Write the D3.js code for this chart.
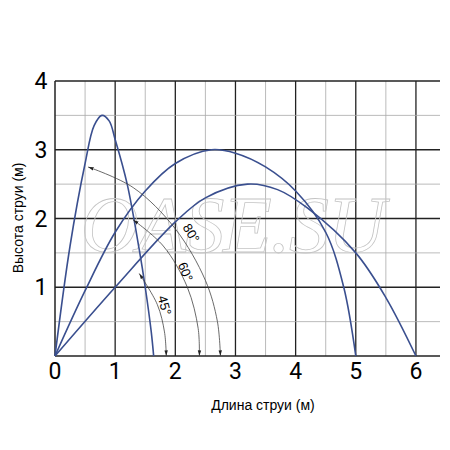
<!DOCTYPE html><html><head><meta charset="utf-8"><script src="https://cdn.jsdelivr.net/npm/d3@7"></script>
<style>body{margin:0;background:#fff}</style></head><body><svg id="c" width="450" height="450"></svg><script>
const curve80=[[0,0],[0.25,1.6],[0.5,2.8],[0.65,3.35],[0.78,3.5],[0.9,3.42],[1.0,3.15],[1.2,2.5],[1.4,1.55],[1.5,1.0],[1.6,0.35],[1.64,0]];
const curve60=[[0,0],[0.5,0.95],[1,1.8],[1.5,2.4],[2,2.8],[2.6,3.0],[3,2.95],[3.5,2.75],[4,2.4],[4.5,1.8],[4.8,1.0],[5,0]];
const curve45=[[0,0],[1,1],[2,1.95],[2.5,2.3],[3.2,2.5],[3.7,2.42],[4.2,2.15],[5,1.5],[5.5,0.85],[6,0]];
const arc80=[[0.55,2.75],[1.3,2.45],[2.0,1.85],[2.5,1.1],[2.7,0.5],[2.75,0]];
const arc60=[[1.3,1.98],[1.8,1.6],[2.2,1.0],[2.38,0.4],[2.4,0]];
const arc45=[[1.4,1.2],[1.7,0.75],[1.82,0.35],[1.85,0]];
const xTicks=[0,1,2,3,4,5,6], yTicks=[1,2,3,4];
const svg=d3.select("#c");
const x=d3.scaleLinear([0,6.4],[55,440]), y=d3.scaleLinear([0,4],[356,81]);
const g=svg.append("g");
for(let v=0.5;v<=6.4;v+=0.5){g.append("line").attr("x1",x(v)).attr("x2",x(v)).attr("y1",y(0)).attr("y2",y(4)).attr("stroke",Number.isInteger(v)?"#222":"#aaa").attr("stroke-width",Number.isInteger(v)?1.3:0.8);}
for(let v=0.5;v<=4;v+=0.5){g.append("line").attr("x1",x(0)).attr("x2",x(6.4)).attr("y1",y(v)).attr("y2",y(v)).attr("stroke",Number.isInteger(v)?"#222":"#aaa").attr("stroke-width",Number.isInteger(v)?1.3:0.8);}
g.append("line").attr("x1",x(0)).attr("x2",x(0)).attr("y1",y(0)).attr("y2",y(4)).attr("stroke","#222").attr("stroke-width",1.5);
g.append("line").attr("x1",x(0)).attr("x2",x(6.4)).attr("y1",y(0)).attr("y2",y(0)).attr("stroke","#222").attr("stroke-width",1.5);
svg.append("text").attr("x",233).attr("y",252).attr("text-anchor","middle").attr("font-family","Liberation Serif").attr("font-style","italic").attr("font-size",80).attr("textLength",305).attr("fill","none").attr("stroke","#c4c4c4").attr("stroke-width",0.8).text("OASE.SU");
const defs=svg.append("defs");
defs.append("marker").attr("id","ar").attr("viewBox","0 0 10 10").attr("refX",10).attr("refY",5).attr("markerWidth",7).attr("markerHeight",7).attr("orient","auto-start-reverse").append("path").attr("d","M0,2L10,5L0,8z").attr("fill","#222");
const ln=d3.line().x(d=>x(d[0])).y(d=>y(d[1])).curve(d3.curveCatmullRom);
[curve80,curve60,curve45].forEach(c=>svg.append("path").attr("d",ln(c)).attr("fill","none").attr("stroke","#3a4f8f").attr("stroke-width",1.6));
[arc80,arc60,arc45].forEach(c=>svg.append("path").attr("d",ln(c)).attr("fill","none").attr("stroke","#444").attr("stroke-width",0.8).attr("marker-start","url(#ar)").attr("marker-end","url(#ar)"));
[["80°",2.2,1.75,58],["60°",2.1,1.2,68],["45°",1.75,0.72,75]].forEach(([t,a,b,r])=>svg.append("text").attr("transform",`translate(${x(a)},${y(b)}) rotate(${r})`).attr("text-anchor","middle").attr("font-family","Arial, Liberation Sans").attr("font-size",13).text(t));
xTicks.forEach(v=>svg.append("text").attr("x",x(v)).attr("y",379).attr("text-anchor","middle").attr("font-family","Roboto").attr("font-size",23).text(v));
yTicks.forEach(v=>svg.append("text").attr("x",41).attr("y",y(v)+8).attr("text-anchor","middle").attr("font-family","Roboto").attr("font-size",23).text(v));
svg.append("text").attr("x",263).attr("y",410).attr("text-anchor","middle").attr("font-family","Arial, Liberation Sans").attr("font-size",14).text("Длина струи (м)");
svg.append("text").attr("transform","translate(23,218) rotate(-90)").attr("text-anchor","middle").attr("font-family","Arial, Liberation Sans").attr("font-size",14).text("Высота струи (м)");
</script></body></html>
